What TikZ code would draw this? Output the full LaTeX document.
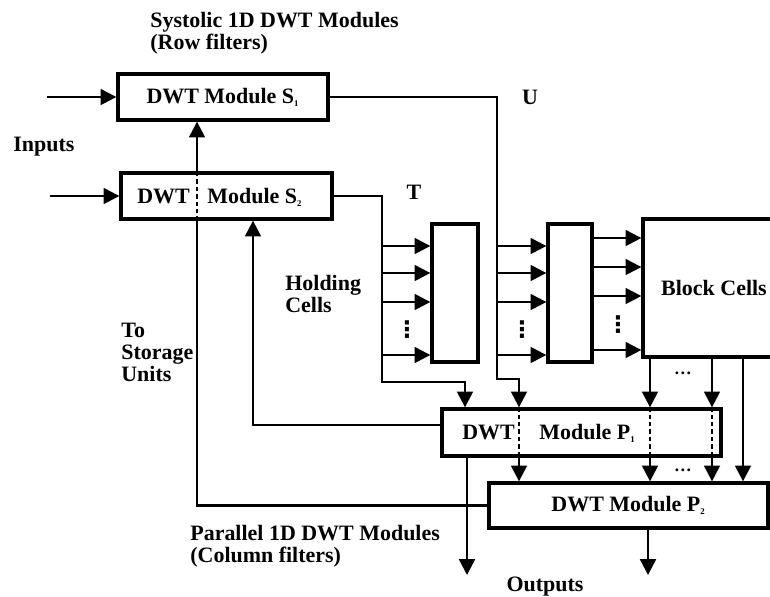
\documentclass[tikz,border=0pt]{standalone}
\usepackage{fontspec}
\setmainfont{Liberation Serif}
\newfontfamily\symfont{DejaVu Sans}
\usetikzlibrary{arrows.meta, positioning}
\tikzset{
  mod/.style={rectangle, draw, line width=1.9pt, inner sep=0pt,
              font=\fontsize{12.5}{12.5}\selectfont\bfseries},
  cell/.style={rectangle, draw, line width=1.9pt, minimum height=2.76cm},
  wire/.style={line width=1.35pt},
  arr/.style={wire, -{Triangle[length=9pt, width=9pt]}},
  dline/.style={wire, dash pattern=on 2.5pt off 1.7pt},
  lbl/.style={font=\fontsize{12.5}{12.5}\selectfont\bfseries, align=left, inner sep=0pt},
  dots/.style={inner sep=0pt, font=\bfseries},
  vdots/.style={inner sep=0pt, font=\symfont\fontsize{13}{13}\selectfont\bfseries},
}
\newcommand{\subidx}[1]{\textsubscript{\tiny #1}}
\begin{document}
\begin{tikzpicture}[x=0.02cm, y=-0.02cm]
  \useasboundingbox (0,0) rectangle (770,596);

  % row filters
  \node[mod, minimum width=4.2cm, minimum height=0.92cm] (s1) at (223,97)
    {DWT Module S\subidx{1}};
  \node[mod, minimum width=4.22cm, minimum height=0.92cm] (s2) at (226.5,196) {};
  \node[lbl, anchor=west] (s2txt) at (137,197) {DWT\hspace{10pt}Module S\subidx{2}};

  % holding and block cells
  \node[cell, minimum width=0.92cm] (hold1) at (455,293) {};
  \node[cell, minimum width=0.88cm] (hold2) at (570,293) {};
  \node[mod, minimum width=2.84cm, minimum height=2.76cm] (blk) at (714,288) {Block Cells};

  % column filters
  \node[mod, minimum width=5.58cm, minimum height=0.94cm] (p1) at (581.5,432.5) {};
  \node[lbl, anchor=west] (p1txt) at (462,433) {DWT\hspace{14pt}Module P\subidx{1}};
  \node[mod, minimum width=5.58cm, minimum height=0.9cm] (p2) at (628.5,505.5)
    {DWT Module P\subidx{2}};

  \coordinate (in1) at (47,97);
  \coordinate (in2) at (50,196);
  \coordinate (uturn) at (497,379);
  \coordinate (tturn) at (382,382);
  \coordinate (s1in) at ([xshift=-0.52cm]s1.south);
  \coordinate (s2in) at ([xshift=0.53cm]s2.south);
  \coordinate (ct) at (465,0);
  \coordinate (ca) at (519,0);
  \coordinate (cb) at (650,0);
  \coordinate (cc) at (712,0);
  \coordinate (cd) at (743,0);
  \coordinate (o1) at (467,575);
  \coordinate (o2) at (648,575);

  \draw[arr] (in1) -- (s1.west);
  \draw[arr] (in2) -- (s2.west);
  \draw[arr] (s1.east) -| (uturn) -| (p1.north -| ca);
  \draw[arr] (s2.east) -| (tturn) -| (p1.north -| ct);

  \foreach \y in {246,273,302,355} {
    \coordinate (r) at (0,\y);
    \draw[arr] (tturn |- r) -- (hold1.west |- r);
    \draw[arr] (uturn |- r) -- (hold2.west |- r);
  }
  \foreach \y in {238,267,296,350} {
    \coordinate (r) at (0,\y);
    \draw[arr] (hold2.east |- r) -- (blk.west |- r);
  }
  \node[vdots] (v1) at (407,330) {⋮};
  \node[vdots] (v2) at (522,330) {⋮};
  \node[vdots] (v3) at (618,325) {⋮};

  % block cells to column filters
  \foreach \c in {cb,cc}
    \draw[arr] (blk.south -| \c) -- (p1.north -| \c);
  \draw[arr] (blk.south -| cd) -- (p2.north -| cd);
  \node[dots] (h1) at (683,373) {\dots};
  \foreach \c in {ca,cb,cc} {
    \draw[dline] (p1.north -| \c) -- (p1.south -| \c);
    \draw[arr] (p1.south -| \c) -- (p2.north -| \c);
  }
  \node[dots] (h2) at (683,470) {\dots};

  % back to the row filters
  \draw[arr] ([yshift=0.15cm]p1.west) -| (s2in);
  \draw[wire] (p2.west) -| (s2.south -| s1in);
  \draw[dline] (s2.south -| s1in) -- (s2.north -| s1in);
  \draw[arr] (s2.north -| s1in) -- (s1in);

  \draw[arr] (p1.south -| o1) -- (o1);
  \draw[arr] (p2.south -| o2) -- (o2);

  % labels
  \node[lbl, anchor=west] (title) at (150,33) {Systolic 1D DWT Modules\\(Row filters)};
  \node[lbl, anchor=west] (inputs) at (13,147) {Inputs};
  \node[lbl] (ulbl) at (530,97) {U};
  \node[lbl] (tlbl) at (414,192) {T};
  \node[lbl, anchor=west] (holdlbl) at (285,294) {Holding\\Cells};
  \node[lbl, anchor=west] (storlbl) at (121,352) {To\\Storage\\Units};
  \node[lbl, anchor=west] (parlbl) at (190,546) {Parallel 1D DWT Modules\\(Column filters)};
  \node[lbl] (outlbl) at (545,587) {Outputs};
\end{tikzpicture}
\end{document}
